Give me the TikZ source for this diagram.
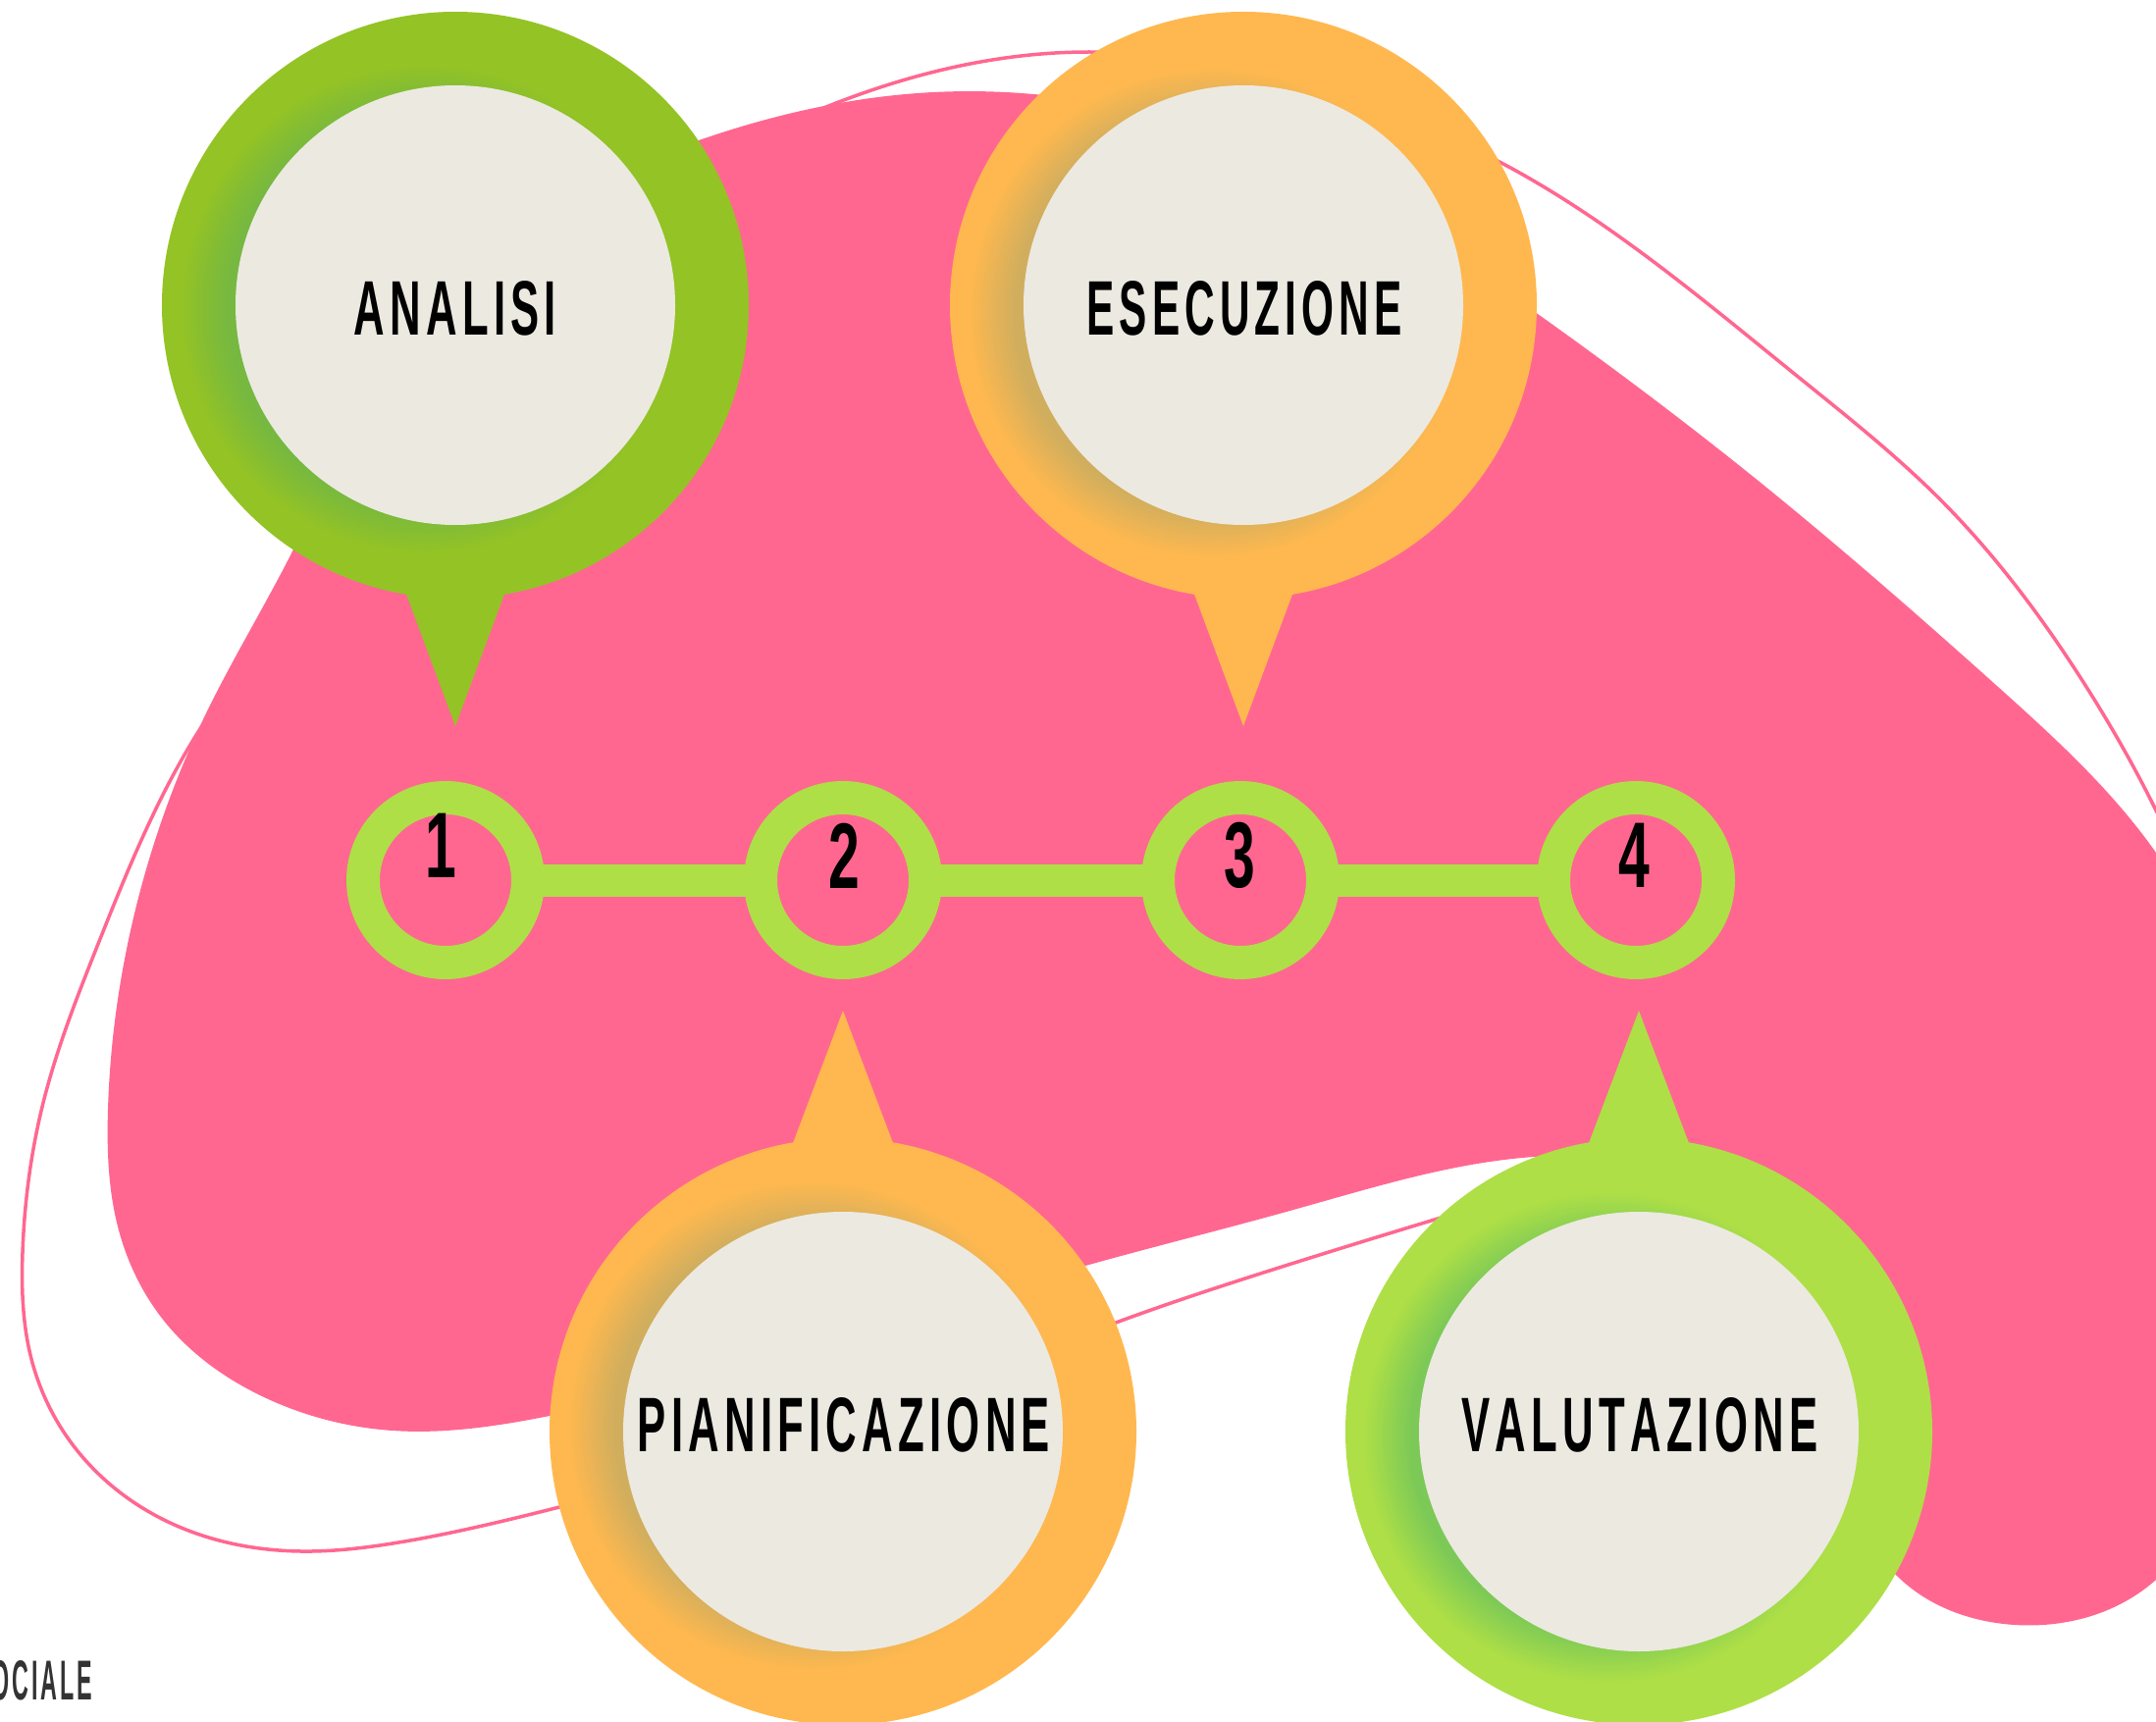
\documentclass[tikz,border=0pt]{standalone}
\usepackage{fontspec}
\setmainfont{Liberation Sans}
\usepackage{graphicx}
\usetikzlibrary{calc,hobby}
\definecolor{pinkc}{HTML}{FF6791}
\definecolor{aring}{HTML}{94C325}
\definecolor{ashadow}{HTML}{76B840}
\definecolor{oring}{HTML}{FFB84F}
\definecolor{oshadow}{HTML}{D0AE5E}
\definecolor{vring}{HTML}{AEDF46}
\definecolor{vshadow}{HTML}{7CC957}
\definecolor{beige}{HTML}{ECE9E1}
\definecolor{signgray}{HTML}{333333}
\newcommand\LtrSp{\hspace{0.12em}}
\newcommand\ringshadow[3]{%
  \foreach \i in {0,...,24}{%
    \pgfmathtruncatemacro\pc{\i*100/24}%
    \pgfmathsetmacro\rr{251-2*\i}%
    \fill[#2!\pc!#3] #1 circle[radius=\rr pt];
  }%
}
\begin{document}
\begin{tikzpicture}[x=1pt,y=-1pt,
  numring/.style={circle, draw=vring, line width=34pt, minimum size=168pt, inner sep=0pt},
  bigring/.style={circle, minimum size=598pt, inner sep=0pt},
  innerc/.style={circle, fill=beige, minimum size=448pt, inner sep=0pt},
  lbl/.style={inner sep=0pt, font=\bfseries, text=black},
  dig/.style={inner sep=0pt, font=\fontsize{95pt}{95pt}\selectfont\bfseries, text=black},
  bar/.style={draw=vring, line width=33pt, shorten <=-4pt, shorten >=-4pt},
  thinline/.style={draw=pinkc, line width=3.5pt},
]
\useasboundingbox (0,0) rectangle (2197,1755);
\clip (0,0) rectangle (2197,1755);
\fill[white] (0,0) rectangle (2197,1755);

% thin outline
\draw[thinline, use Hobby shortcut, closed=true]
 (1110,53) .. (1330,88) .. (1528,165) .. (1688,269) .. (1831,383) .. (1974,506) .. (2126,700)
 .. (2230,900) .. (2240,1060) .. (2100,1140) .. (1850,1172) .. (1600,1205)
 .. (1465,1242) .. (1300,1293) .. (1137,1348) .. (900,1440) .. (574,1535) .. (400,1573)
 .. (317,1581) .. (180,1555) .. (80,1480) .. (32,1385) .. (23,1277) .. (45,1120) .. (100,962)
 .. (197,754) .. (400,500) .. (650,220) .. (868,99);

% pink blob
\fill[pinkc, use Hobby shortcut, closed=true]
 (951,94) .. (712,143) .. (520,240) .. (390,380) .. (300,558) .. (210,727) .. (145,900)
 .. (110,1131) .. (120,1250) .. (167,1346) .. (267,1423) .. (400,1458) .. (560,1443)
 .. (840,1370) .. (1106,1290) .. (1318,1233) .. (1563,1179) .. (1680,1192) .. (1800,1300)
 .. (1870,1480) .. (1930,1603) .. (2053,1656) .. (2197,1610) .. (2280,1400) .. (2290,1100) .. (2197,869)
 .. (2036,700) .. (1783,483) .. (1567,320) .. (1300,160) .. (1120,105);

% timeline
\node[numring] (n1) at (454,897) {};
\node[numring] (n2) at (859,897) {};
\node[numring] (n3) at (1264,897) {};
\node[numring] (n4) at (1667,897) {};
\draw[bar] (n1) -- (n2);
\draw[bar] (n2) -- (n3);
\draw[bar] (n3) -- (n4);
\node[dig] (d1) at (449,862) {\scalebox{0.6}[1]{1}};
\node[dig] (d2) at (860,872) {\scalebox{0.6}[1]{2}};
\node[dig] (d3) at (1263,872) {\scalebox{0.6}[1]{3}};
\node[dig] (d4) at (1665,872) {\scalebox{0.6}[1]{4}};

% ANALISI
\node[bigring, fill=aring] (ringA) at (464,311) {};
\fill[aring] ($(ringA.center)+(-67,249)$) -- ($(ringA.center)+(67,249)$) -- ($(ringA.center)+(0,429)$) -- cycle;
\ringshadow{($(ringA.center)+(-30,4)$)}{ashadow}{aring}
\node[innerc] (cA) at (ringA.center) {};
\node[lbl] (tA) at (464,314) {\resizebox{206pt}{55pt}{A\LtrSp N\LtrSp A\LtrSp L\LtrSp I\LtrSp S\LtrSp I}};

% ESECUZIONE
\node[bigring, fill=oring] (ringE) at (1267,311) {};
\fill[oring] ($(ringE.center)+(-67,249)$) -- ($(ringE.center)+(67,249)$) -- ($(ringE.center)+(0,429)$) -- cycle;
\ringshadow{($(ringE.center)+(-30,8)$)}{oshadow}{oring}
\node[innerc] (cE) at (ringE.center) {};
\node[lbl] (tE) at (1268,314) {\resizebox{321pt}{55pt}{E\LtrSp S\LtrSp E\LtrSp C\LtrSp U\LtrSp Z\LtrSp I\LtrSp O\LtrSp N\LtrSp E}};

% PIANIFICAZIONE
\node[bigring, fill=oring] (ringP) at (859,1459) {};
\fill[oring] ($(ringP.center)+(-68,-249)$) -- ($(ringP.center)+(68,-249)$) -- ($(ringP.center)+(0,-429)$) -- cycle;
\ringshadow{($(ringP.center)+(-30,-6)$)}{oshadow}{oring}
\node[innerc] (cP) at (ringP.center) {};
\node[lbl] (tP) at (860,1452) {\resizebox{420pt}{55pt}{P\LtrSp I\LtrSp A\LtrSp N\LtrSp I\LtrSp F\LtrSp I\LtrSp C\LtrSp A\LtrSp Z\LtrSp I\LtrSp O\LtrSp N\LtrSp E}};

% VALUTAZIONE
\node[bigring, fill=vring] (ringV) at (1670,1459) {};
\fill[vring] ($(ringV.center)+(-68,-249)$) -- ($(ringV.center)+(68,-249)$) -- ($(ringV.center)+(0,-429)$) -- cycle;
\ringshadow{($(ringV.center)+(-30,6)$)}{vshadow}{vring}
\node[innerc] (cV) at (ringV.center) {};
\node[lbl] (tV) at (1671,1452) {\resizebox{363pt}{55pt}{V\LtrSp A\LtrSp L\LtrSp U\LtrSp T\LtrSp A\LtrSp Z\LtrSp I\LtrSp O\LtrSp N\LtrSp E}};

% corner text
\node[inner sep=0pt, anchor=east, font=\bfseries, text=signgray] (sig) at (94,1713) {\resizebox{102pt}{40pt}{O\LtrSp C\LtrSp I\LtrSp A\LtrSp L\LtrSp E}};
\end{tikzpicture}
\end{document}
